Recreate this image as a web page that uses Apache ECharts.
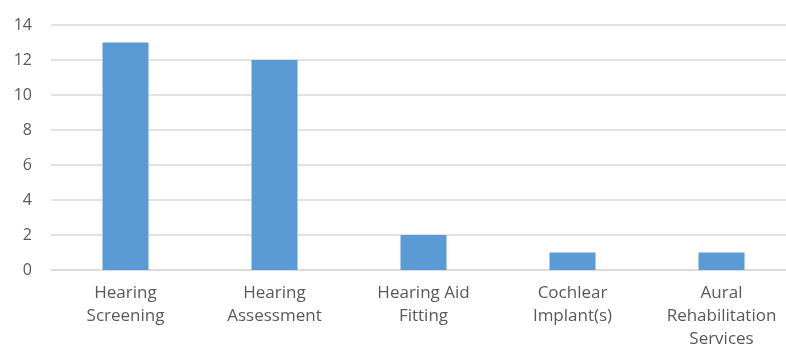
<!DOCTYPE html>
<html>
<head>
<meta charset="utf-8">
<script src="https://cdn.jsdelivr.net/npm/echarts@6/dist/echarts.min.js"></script>
<style>
  html, body { margin: 0; padding: 0; background: #fff; }
  #chart { width: 786px; height: 344px; }
</style>
</head>
<body>
<div id="chart"></div>
<script>
// Service categories (line breaks as shown under each bar)
const categories = [
  'Hearing\nScreening',
  'Hearing\nAssessment',
  'Hearing Aid\nFitting',
  'Cochlear\nImplant(s)',
  'Aural\nRehabilitation\nServices'
];
const counts = [13, 12, 2, 1, 1];
const yTicks = { min: 0, max: 14, interval: 2 };

const chart = echarts.init(document.getElementById('chart'), null, { renderer: 'canvas' });
chart.setOption({
  animation: false,
  grid: {
    left: 51, top: 25, width: 745, height: 245,
    containLabel: false,
    outerBoundsMode: 'none'
  },
  xAxis: {
    type: 'category',
    data: categories,
    axisLine: { lineStyle: { color: '#d9d9d9', width: 1.5 } },
    axisTick: { show: false },
    axisLabel: {
      color: '#595959',
      fontFamily: 'Open Sans',
      fontSize: 17,
      lineHeight: 23,
      margin: 12,
      interval: 0
    }
  },
  yAxis: {
    type: 'value',
    min: yTicks.min,
    max: yTicks.max,
    interval: yTicks.interval,
    axisLine: { show: false },
    axisTick: { show: false },
    splitLine: { lineStyle: { color: '#d9d9d9', width: 1.5 } },
    axisLabel: {
      color: '#595959',
      fontFamily: 'Open Sans',
      fontSize: 16,
      margin: 19
    }
  },
  series: [{
    type: 'bar',
    data: counts,
    barWidth: 46,
    itemStyle: { color: '#5b9bd5' }
  }]
});
</script>
</body>
</html>
